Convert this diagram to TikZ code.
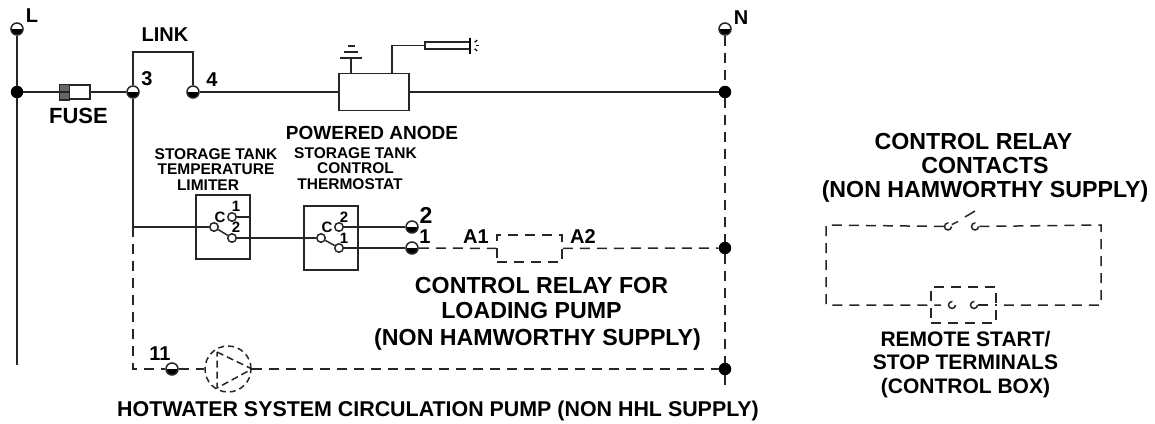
\documentclass[tikz,border=0pt]{standalone}
\usepackage{fontspec}
\setmainfont{Liberation Sans}
\tikzset{
	wire/.style={line width=1.5pt, draw=black!85},
	dashwire/.style={wire, dash pattern=on 10pt off 7pt},
	terminal/.style={draw=black!85, line width=1.5pt, circle, fill=white, minimum size=12pt, inner sep=0pt,
		path picture={\fill [black] (path picture bounding box.west) rectangle (path picture bounding box.south east);}},
	junction/.style={circle, fill=black, minimum size=12.5pt, inner sep=0pt},
	contact/.style={draw=black!85, line width=1.5pt, circle, fill=white, minimum size=8.5pt, inner sep=0pt},
	opencontact/.style={contact, fill=none, minimum size=7pt, dash pattern=on 17pt off 5pt, dash phase=17pt},
	device/.style={draw=black!85, line width=1.5pt, rectangle, inner sep=0pt},
	biglabel/.style={font=\bfseries\fontsize{23.2}{25.5}\selectfont, align=center, inner sep=0pt},
	sidelabel/.style={font=\bfseries\fontsize{21}{23.5}\selectfont, align=center, inner sep=0pt},
	midlabel/.style={font=\bfseries\fontsize{20}{20}\selectfont, inner sep=0pt},
	smalllabel/.style={font=\bfseries\fontsize{15.5}{15.5}\selectfont, align=center, inner sep=0pt},
	tinylabel/.style={font=\bfseries\fontsize{15}{15}\selectfont, inner sep=0pt}
}
\begin{document}
\begin{tikzpicture}[x=1pt, y=-1pt]

\path [use as bounding box] (0,0) rectangle (1155,423);

% TERMINALS
\node [terminal] (tL) at (17,29) {};
\node [terminal] (tN) at (725,29) {};
\node [junction] (jL) at (17,92) {};
\node [terminal] (t3) at (133,92) {};
\node [terminal] (t4) at (193,92) {};
\node [junction] (jA) at (725,92) {};
\node [junction] (jB) at (725,248) {};
\node [junction] (jC) at (725,369) {};
\node [terminal] (t2) at (412,227) {};
\node [terminal] (t1) at (412,248) {};
\node [terminal] (t11) at (172,369) {};
\coordinate (endL) at (17,365);
\coordinate (endN) at (725,388);
\coordinate (tapS) at (133,227);
\coordinate (cornerP) at (133,369);
\coordinate (linkA) at (133,52);
\coordinate (linkB) at (193,52);

% FUSE
\node [device, fill=white, minimum width=30pt, minimum height=14pt] (fuse) at (75,92) {};
\filldraw [wire, fill=black!60] (fuse.north west) rectangle ([xshift=10pt]fuse.south west);
\draw [wire] (fuse.west) -- ([xshift=10pt]fuse.west);

% ANODE
\node [device, minimum width=70pt, minimum height=37pt] (anode) at (374,92) {};
\node [device, fill=white, minimum width=45pt, minimum height=7pt] (probe) at (447.5,45.5) {};
\coordinate (gndA) at (351,58);
\coordinate (wireA) at (392,45.5);
\draw [wire] (gndA |- anode.north) -- (gndA);
\draw [wire] (340,58) -- (362,58);
\draw [wire] (344,52) -- (358,52);
\draw [wire] (348,46) -- (355,46);
\draw [wire] (wireA |- anode.north) -- (wireA) -- (probe);
\foreach \a in {-40,0,40}
	\draw [line width=1.2pt] (probe.east) ++(\a:5) -- +(\a:3.5);
\draw [line width=1.2pt] (470,38) -- (470,54);

% LIMITER
\node [device, minimum width=54pt, minimum height=64pt] (limiter) at (223,227) {};
\node [contact] (cL) at (214,227) {};
\node [contact] (cL1) at (232,217) {};
\node [contact] (cL2) at (232,238) {};

% THERMOSTAT
\node [device, minimum width=54pt, minimum height=64pt] (stat) at (331,238) {};
\node [contact] (cT) at (321,238) {};
\node [contact] (cT2) at (339,227) {};
\node [contact] (cT1) at (339,248) {};

% RELAY
\node [device, dashwire, minimum width=65pt, minimum height=27pt] (relay) at (529.5,248.5) {};

% PUMP
\node [device, minimum size=46pt, circle, dash pattern=on 6pt off 4pt] (pump) at (228,369) {};
\draw [wire, dash pattern=on 7pt off 4pt] (217,352) -- (252,369) -- (217,388) -- cycle;

% WIRES
\draw [wire] (tL) -- (jL) -- (endL);
\draw [wire] (jL) -- (fuse) -- (t3);
\draw [wire] (t3) -- (linkA) -- (linkB) -- (t4);
\draw [wire] (t4) -- (anode) -- (jA);
\draw [wire] (t3) -- (tapS) -- (cL);
\draw [wire] (cL) -- (cL2);
\draw [wire] (cL1) -- (cL1 -| limiter.east);
\draw [wire] (cL2) -- (cT);
\draw [wire] (cT) -- (cT1);
\draw [wire] (cT2) -- (t2);
\draw [wire] (cT1) -- (t1);
\draw [dashwire] (tN) -- (jA) -- (jB) -- (jC) -- (endN);
\draw [dashwire] (t1) -- (relay);
\draw [dashwire] (relay) -- (jB);
\draw [dashwire] (tapS) -- (cornerP) -- (t11);
\draw [dashwire] (t11) -- (pump);
\draw [dashwire] (pump) -- (jC);

% REMOTE CIRCUIT
\node [opencontact] (rsA) at (948,226.5) {};
\node [opencontact] (rsB) at (975,226.5) {};
\node [device, dashwire, minimum width=65pt, minimum height=36pt] (remote) at (963.5,305) {};
\node [opencontact] (rsC) at (952,305) {};
\node [opencontact] (rsD) at (974,305) {};
\coordinate (boxNW) at (826,225);
\coordinate (boxNE) at (1101,225);
\coordinate (boxSW) at (826,305);
\coordinate (boxSE) at (1101,305);
\coordinate (stubL) at (941,305);
\draw [dashwire] (rsB) -- (boxNE) -- (boxSE) -- (remote.east);
\draw [dashwire] (rsA) -- (boxNW) -- (boxSW) -- (stubL);
\draw [dashwire] (rsD) -- (remote.east);
\coordinate (bladeA) at (958,221.5);
\coordinate (bladeB) at (965,217);
\coordinate (bladeC) at (975,211);
\draw [wire] (rsA) -- (bladeA);
\draw [wire] (bladeB) -- (bladeC);

% NOTE
\node [midlabel] (lblL) at (32,16) {L};
\node [midlabel] (lblN) at (741,18) {N};
\node [midlabel] (lblLink) at (165,34.5) {LINK};
\node [midlabel] (lbl3) at (147,79) {3};
\node [midlabel] (lbl4) at (212,80) {4};
\node [midlabel, font=\bfseries\fontsize{22}{22}\selectfont] (lblFuse) at (78.5,116) {FUSE};
\node [midlabel, font=\bfseries\fontsize{19}{19}\selectfont] (lblAnode) at (372,133) {POWERED ANODE};
\node [smalllabel] (lblLimiter) at (216,169.5) {STORAGE TANK\\TEMPERATURE\hspace*{8pt}\\LIMITER\hspace*{16pt}};
\node [smalllabel] (lblStat) at (355.5,168.5) {STORAGE TANK\\CONTROL\hspace*{11pt}\\THERMOSTAT\hspace*{11pt}};
\node [tinylabel] (lblC) at (220,217) {C};
\node [tinylabel] (lblL1) at (236,206) {1};
\node [tinylabel] (lblL2) at (236,227) {2};
\node [tinylabel] (lblTC) at (327,227) {C};
\node [tinylabel] (lblT2) at (344,217) {2};
\node [tinylabel] (lblT1) at (344,238) {1};
\node [midlabel, font=\bfseries\fontsize{23}{23}\selectfont] (lbl2) at (426,215) {2};
\node [midlabel] (lbl1) at (425,237) {1};
\node [midlabel] (lblA1) at (476,237) {A1};
\node [midlabel] (lblA2) at (583,237) {A2};
\node [biglabel] (lblRelay) at (541.5,286) {CONTROL RELAY FOR};
\node [biglabel] (lblLoad) at (531.5,311) {LOADING PUMP};
\node [biglabel] (lblSupply) at (537.5,339) {(NON HAMWORTHY SUPPLY)};
\node [midlabel] (lbl11) at (160,354) {11};
\node [midlabel, font=\bfseries\fontsize{21.4}{22}\selectfont] (lblPump) at (438,411) {HOTWATER SYSTEM CIRCULATION PUMP (NON HHL SUPPLY)};
\node [biglabel, font=\bfseries\fontsize{23.2}{24}\selectfont] (lblContacts) at (985,168) {CONTROL RELAY\hspace*{23pt}\\CONTACTS\hspace*{19pt}\\(NON HAMWORTHY SUPPLY)};
\node [sidelabel] (lblRemote) at (965.5,364.5) {REMOTE START/\\STOP TERMINALS\\(CONTROL BOX)};

\end{tikzpicture}
\end{document}
